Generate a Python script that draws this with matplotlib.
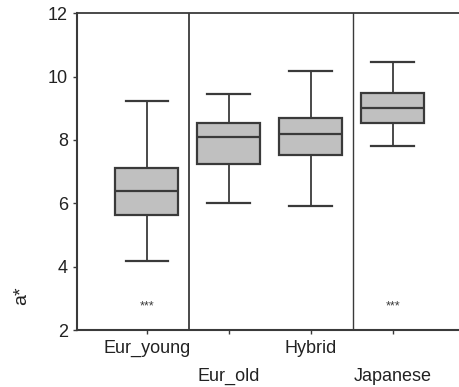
import matplotlib
matplotlib.use("Agg")
import matplotlib.pyplot as plt

plt.rcParams["font.family"] = ["Liberation Sans", "DejaVu Sans"]

# group names and box statistics
groups = ["Eur_young", "Eur_old", "Hybrid", "Japanese"]
whislo = [4.18, 6.0, 5.9, 7.8]
q1 = [5.64, 7.25, 7.51, 8.52]
med = [6.4, 8.08, 8.2, 9.0]
q3 = [7.1, 8.55, 8.68, 9.47]
whishi = [9.22, 9.44, 10.16, 10.45]

# significance marks
star_groups = ["Eur_young", "Japanese"]
star_y = 2.75

line_col = "#3a3a3a"
fill_col = "#c0c0c0"
text_col = "#222222"

fig = plt.figure(figsize=(4.6, 3.87), dpi=100)
ax = fig.add_axes([0.167, 0.147, 0.833, 0.819])

stats = []
for i, g in enumerate(groups):
    stats.append(dict(label=g, whislo=whislo[i], q1=q1[i], med=med[i],
                      q3=q3[i], whishi=whishi[i], fliers=[]))

positions = list(range(1, len(groups) + 1))
ax.bxp(stats, positions=positions, widths=0.77, patch_artist=True,
       showfliers=False, capwidths=0.52,
       boxprops=dict(facecolor=fill_col, edgecolor=line_col, linewidth=1.6),
       medianprops=dict(color=line_col, linewidth=1.6),
       whiskerprops=dict(color=line_col, linewidth=1.3),
       capprops=dict(color=line_col, linewidth=1.6))

# vertical dividers between groups
ax.axvline(1.51, color=line_col, linewidth=1.3)
ax.axvline(3.51, color=line_col, linewidth=1.0)

for g in star_groups:
    ax.text(groups.index(g) + 1, star_y, "***", ha="center", va="center",
            fontsize=9, color=line_col)

ax.set_xlim(0.146, 4.82)
ax.set_ylim(2, 12)
ax.set_yticks([2, 4, 6, 8, 10, 12])
ax.tick_params(axis="y", labelsize=13, length=3, color=line_col, width=1,
               labelcolor=text_col)
ax.tick_params(axis="x", length=3, color=line_col, width=1)
ax.set_xticks(positions)
ax.set_xticklabels(["" for _ in groups])

# staggered category labels
for i, g in enumerate(groups):
    off = -7 if i % 2 == 0 else -27
    ax.annotate(g, xy=(positions[i], 0), xycoords=ax.get_xaxis_transform(),
                xytext=(0, off), textcoords="offset points",
                ha="center", va="top", fontsize=13, color=text_col,
                annotation_clip=False)

ax.spines["right"].set_visible(False)
for s in ["left", "bottom", "top"]:
    ax.spines[s].set_color(line_col)
    ax.spines[s].set_linewidth(1.5)
ax.spines["top"].set_linewidth(1.3)

ax.text(-0.145, 0.11, "a*", rotation=90, transform=ax.transAxes,
        ha="center", va="center", fontsize=14, color=text_col)

fig.savefig("out.png", dpi=100)
